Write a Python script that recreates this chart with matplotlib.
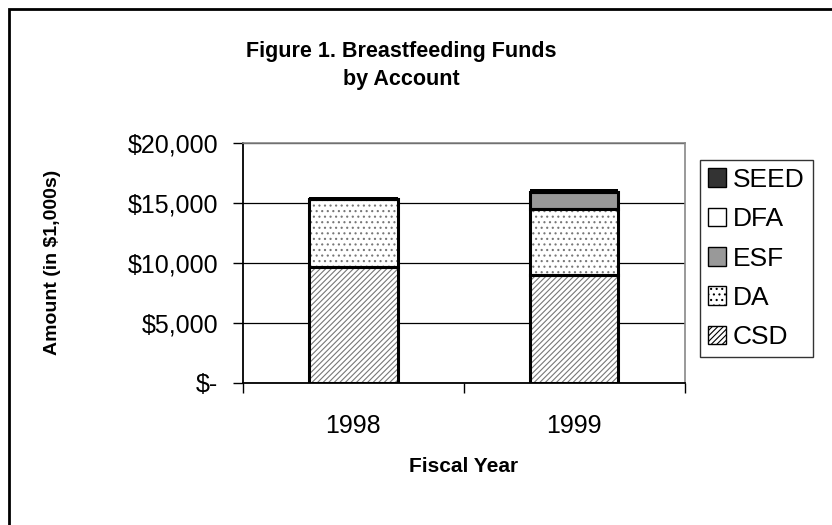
import numpy as np
import matplotlib.pyplot as plt
from matplotlib.patches import Patch, Rectangle
from matplotlib.ticker import FuncFormatter

plt.rcParams.update({
    "font.family": ["Liberation Sans", "DejaVu Sans"],
    "hatch.linewidth": 0.8,
})

# Data (in $1,000s)
years = ["1998", "1999"]
accounts = ["CSD", "DA", "ESF", "DFA", "SEED"]
csd = [9700, 9000]
da = [5600, 5500]
esf = [0, 1450]
dfa = [0, 0]
seed = [220, 200]
series = [csd, da, esf, dfa, seed]

# Styles per account
faces = {"CSD": "white", "DA": "white", "ESF": "#999999", "DFA": "white", "SEED": "#333333"}
hatches = {"CSD": "//////", "DA": "...", "ESF": None, "DFA": None, "SEED": None}

fig = plt.figure(figsize=(8.32, 5.25), dpi=100)
ax = fig.add_axes([0.292, 0.2705, 0.531, 0.457])

x = np.arange(len(years))
width = 0.40
bottom = np.zeros(len(years))
for name, vals in zip(accounts, series):
    vals = np.array(vals, dtype=float)
    # hatch layer
    ax.bar(x, vals, width, bottom=bottom, color=faces[name], edgecolor="#777777",
           hatch=hatches[name], linewidth=0, zorder=2)
    # outline layer
    if name == "SEED":
        ax.bar(x, vals, width, bottom=bottom, color="black", linewidth=0, zorder=3)
    else:
        ax.bar(x, vals, width, bottom=bottom, color="none", edgecolor="black",
               linewidth=2.2, zorder=3)
    bottom += vals

ax.set_xlim(-0.5, 1.5)
ax.set_ylim(0, 20000)
ax.set_yticks([0, 5000, 10000, 15000, 20000])
ax.yaxis.set_major_formatter(FuncFormatter(lambda v, p: "$-" if v == 0 else f"${v:,.0f}"))
ax.yaxis.grid(True, color="black", linewidth=0.9, zorder=0)
ax.set_axisbelow(True)

ax.set_xticks([-0.5, 0.5, 1.5])
ax.set_xticklabels([])
ax.set_xticks(x, minor=True)
ax.set_xticklabels(years, minor=True)
ax.tick_params(axis="x", which="minor", length=0, pad=22, labelsize=18)
ax.tick_params(axis="x", which="major", length=7, width=1, direction="out")
ax.tick_params(axis="y", length=7, width=1, direction="out", pad=11, labelsize=18)

for s in ["top", "right"]:
    ax.spines[s].set_color("#888888")
    ax.spines[s].set_linewidth(1.2)
ax.spines["left"].set_linewidth(1.3)
ax.spines["bottom"].set_linewidth(1.3)

ax.set_xlabel("Fiscal Year", fontsize=15, fontweight="bold", labelpad=14)
fig.text(53 / 832, 0.5, "Amount (in $1,000s)", rotation=90, ha="center", va="center",
         fontsize=14, fontweight="bold")

fig.text(0.482, 0.875, "Figure 1. Breastfeeding Funds\nby Account", ha="center", va="center",
         fontsize=15.5, fontweight="bold", linespacing=1.4)

handles = [
    Patch(facecolor=faces[n], edgecolor="black", hatch=hatches[n], label=n)
    for n in reversed(accounts)
]
leg = fig.legend(handles=handles, loc="upper left", bbox_to_anchor=(700 / 832, 1 - 160 / 525),
                 fontsize=19, frameon=True, fancybox=False, edgecolor="black",
                 handlelength=0.7, handleheight=0.7, handletextpad=0.25,
                 labelspacing=0.58, borderpad=0.3, borderaxespad=0)
leg.get_frame().set_linewidth(1.0)

# outer chart border (only top/left visible)
fig.add_artist(Rectangle((9 / 832, -0.1), 1.2, 1 - 9 / 525 + 0.1, transform=fig.transFigure,
                         fill=False, edgecolor="black", linewidth=2))

fig.savefig("out.png", dpi=100)
